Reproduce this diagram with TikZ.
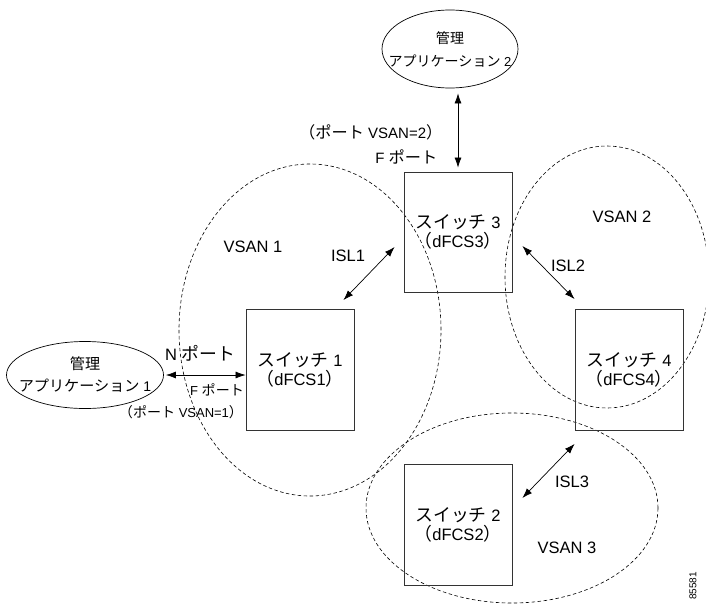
\documentclass[tikz,border=0pt]{standalone}
\usepackage{fontspec}
\setmainfont{Liberation Sans}
\newfontfamily\jp[Scale=1.08]{Noto Sans CJK JP}
\usetikzlibrary{shapes.geometric,arrows.meta}

\begin{document}
\begin{tikzpicture}[x=1pt,y=-1pt,>={Latex[length=10pt,width=7pt]},font=\fontsize{16.5}{19}\selectfont]
	\useasboundingbox (0,0) rectangle (706,605);
	\tikzstyle{switch}=[draw=black!80,line width=0.8pt,rectangle,minimum width=108pt,minimum height=121pt,align=center]
	\tikzstyle{app}=[draw,ellipse,line width=0.7pt,align=center,inner xsep=-25pt,inner ysep=0pt,font=\fontsize{14}{16}\selectfont]
	\tikzstyle{vsan}=[dash pattern=on 3.5pt off 2.5pt,line width=0.6pt]
	\tikzstyle{small}=[font=\fontsize{13}{15}\selectfont]
	\tikzstyle{every path}=[line width=0.7pt]

	%% VSANs
	\draw[vsan] (310,330) ellipse [x radius=131pt, y radius=166pt];
	\draw[vsan] (607,277) ellipse [x radius=102pt, y radius=131pt];
	\draw[vsan] (512,508) ellipse [x radius=146pt, y radius=95pt];

	%% Management applications
	\draw (85,375) node [app,minimum width=157pt,minimum height=67pt] (app1) {{\jp 管理}\\[6pt]{\jp アプリケーション} 1};
	\draw (450,49) node [app,minimum width=136pt,minimum height=78pt,font=\fontsize{13}{16}\selectfont] (app2) {{\jp 管理}\\[7pt]{\jp アプリケーション} 2};

	%% Switches
	\draw (300,370) node [switch] (sw1) {{\jp スイッチ} 1\\{\jp （}dFCS1{\jp ）}};
	\draw (458,232) node [switch,minimum height=120pt] (sw3) {{\jp スイッチ} 3\\{\jp （}dFCS3{\jp ）}};
	\draw (629,370) node [switch] (sw4) {{\jp スイッチ} 4\\{\jp （}dFCS4{\jp ）}};
	\draw (458,525) node [switch] (sw2) {{\jp スイッチ} 2\\{\jp （}dFCS2{\jp ）}};

	%% Links
	\path [<->] ([xshift=2pt]app1.east) edge (sw1.west |- app1.east);
	\path [<->] ([yshift=-5pt]sw3.north |- app2.south) edge ([yshift=4pt]sw3.north);
	\path [<->] ([xshift=-11pt,yshift=9pt]sw1.north east) edge ([xshift=-9pt,yshift=-15pt]sw3.west);
	\path [<->] ([xshift=10pt,yshift=-14pt]sw3.east) edge ([yshift=10pt]sw4.north west);
	\path [<->] ([xshift=10pt,yshift=27pt]sw2.east) edge ([yshift=-13pt]sw4.south west);

	%% Ports
	\draw (200,353) node (np1) {N {\jp ポート}};
	\draw (217,390) node [small] (fp1) {F {\jp ポート}};
	\draw (181,412) node [small] (pv1) {{\jp （ポート} VSAN=1{\jp ）}};
	\draw (446,132) node [anchor=east,font=\fontsize{15}{18}\selectfont] (pv2) {{\jp （ポート} VSAN=2{\jp ）}};
	\draw (441,157) node [anchor=east,font=\fontsize{15}{18}\selectfont] (fp2) {F {\jp ポート}};

	%% ISLs and VSAN names
	\draw (348,256) node (isl1) {ISL1};
	\draw (568,266) node (isl2) {ISL2};
	\draw (572,482) node (isl3) {ISL3};
	\draw (253,247) node (v1) {VSAN 1};
	\draw (622,217) node (v2) {VSAN 2};
	\draw (567,548) node (v3) {VSAN 3};

	\draw (693,586) node [rotate=90,font=\fontsize{10}{12}\selectfont] (fig) {85581};
\end{tikzpicture}
\end{document}
